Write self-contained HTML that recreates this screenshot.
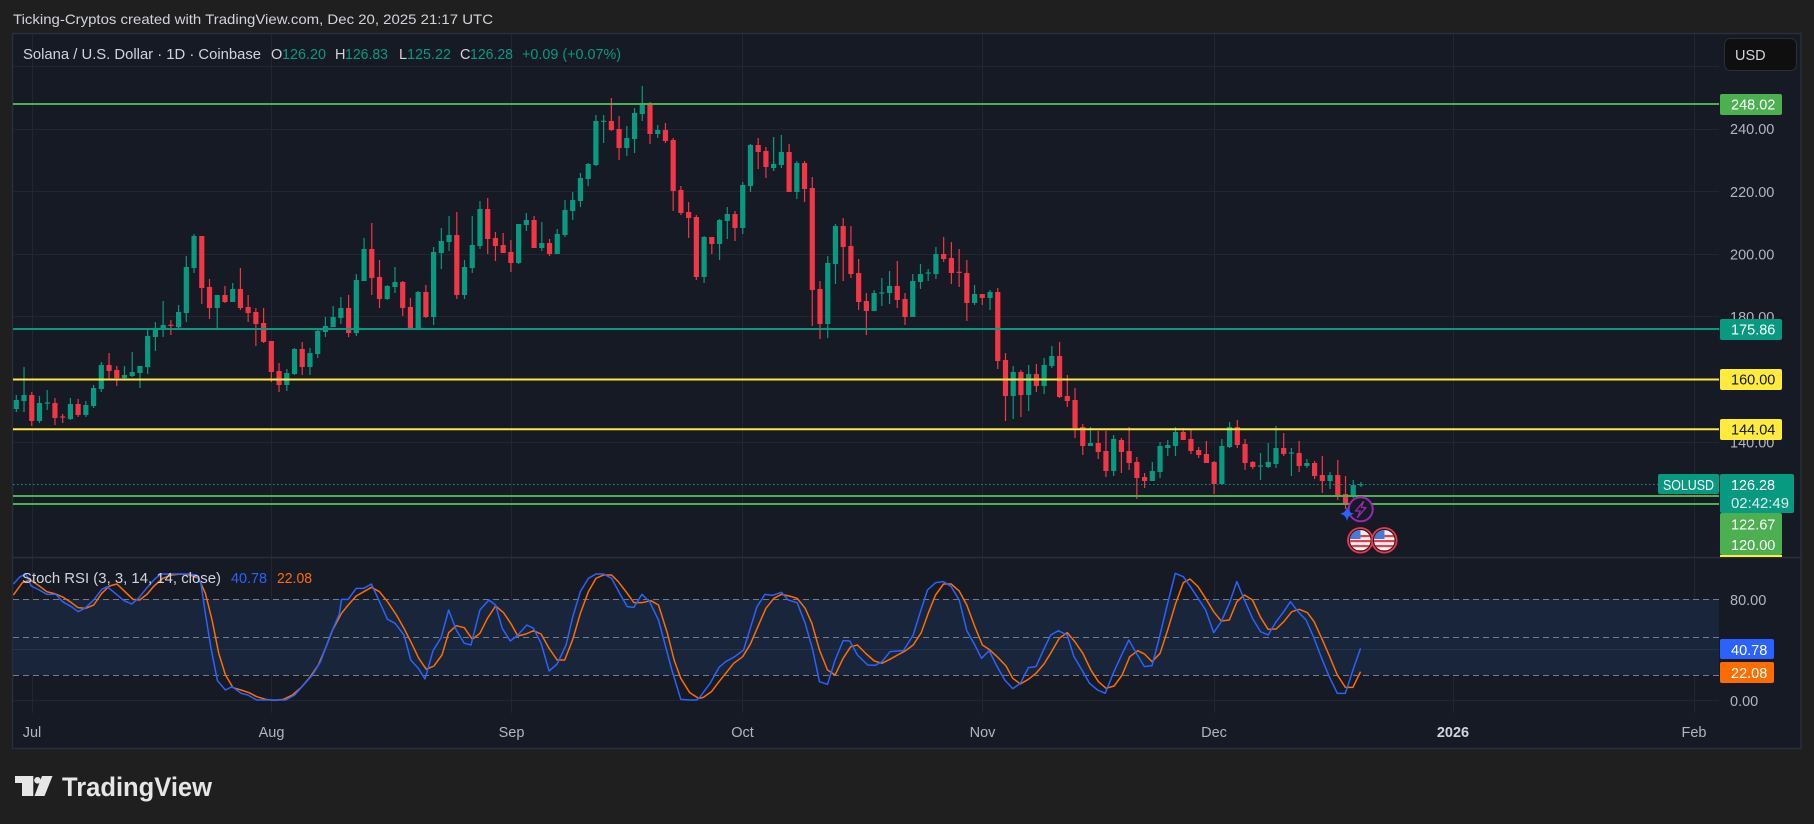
<!DOCTYPE html>
<html><head><meta charset="utf-8">
<style>
html,body{margin:0;padding:0;background:#1f1f1f;width:1814px;height:824px;overflow:hidden}
svg{display:block}
text{font-family:"Liberation Sans",sans-serif}
</style></head><body>
<svg id="s" width="1814" height="824" viewBox="0 0 1814 824" xmlns="http://www.w3.org/2000/svg">
<defs>
<clipPath id="plot"><rect x="13" y="34" width="1706" height="523"/></clipPath>
<clipPath id="spane"><rect x="13" y="558" width="1706" height="155"/></clipPath>
<clipPath id="f1"><circle cx="1360.3" cy="540.3" r="10.3"/></clipPath>
<clipPath id="f2"><circle cx="1384.3" cy="540.3" r="10.3"/></clipPath>
</defs>
<rect width="1814" height="824" fill="#1f1f1f"/>
<text x="13" y="24" font-size="14" fill="#d1d4dc" textLength="480" lengthAdjust="spacingAndGlyphs">Ticking-Cryptos created with TradingView.com, Dec 20, 2025 21:17 UTC</text>
<rect x="12.5" y="33.5" width="1788.5" height="715" fill="#161a25" stroke="#2a2e39" stroke-width="1.5"/>

<!-- grid main pane -->
<g stroke="#232632" stroke-width="1">
<line x1="13" x2="1719" y1="66.5" y2="66.5"/>
<line x1="13" x2="1719" y1="129.5" y2="129.5"/>
<line x1="13" x2="1719" y1="191.5" y2="191.5"/>
<line x1="13" x2="1719" y1="254.5" y2="254.5"/>
<line x1="13" x2="1719" y1="316.5" y2="316.5"/>
<line x1="13" x2="1719" y1="379.5" y2="379.5"/>
<line x1="13" x2="1719" y1="442.5" y2="442.5"/>
<line x1="13" x2="1719" y1="504.5" y2="504.5"/>
<line x1="32.5" x2="32.5" y1="34" y2="713"/>
<line x1="271.5" x2="271.5" y1="34" y2="713"/>
<line x1="511.5" x2="511.5" y1="34" y2="713"/>
<line x1="742.5" x2="742.5" y1="34" y2="713"/>
<line x1="982.5" x2="982.5" y1="34" y2="713"/>
<line x1="1214.5" x2="1214.5" y1="34" y2="713"/>
<line x1="1453.5" x2="1453.5" y1="34" y2="713"/>
<line x1="1694.5" x2="1694.5" y1="34" y2="713"/>
</g>

<!-- legend -->
<g font-size="14.5">
<text x="23" y="59" fill="#d1d4dc" textLength="238" lengthAdjust="spacingAndGlyphs">Solana / U.S. Dollar · 1D · Coinbase</text>
<text x="271" y="59" fill="#d1d4dc">O</text>
<text x="282" y="59" fill="#089981" textLength="44" lengthAdjust="spacingAndGlyphs">126.20</text>
<text x="335" y="59" fill="#d1d4dc">H</text>
<text x="345" y="59" fill="#089981" textLength="43" lengthAdjust="spacingAndGlyphs">126.83</text>
<text x="399" y="59" fill="#d1d4dc">L</text>
<text x="407" y="59" fill="#089981" textLength="44" lengthAdjust="spacingAndGlyphs">125.22</text>
<text x="460" y="59" fill="#d1d4dc">C</text>
<text x="470" y="59" fill="#089981" textLength="43" lengthAdjust="spacingAndGlyphs">126.28</text>
<text x="522" y="59" fill="#089981" textLength="99" lengthAdjust="spacingAndGlyphs">+0.09 (+0.07%)</text>
</g>

<!-- candles -->
<g id="candles" clip-path="url(#plot)"></g>

<!-- dotted last price -->
<line x1="13" x2="1658" y1="484.5" y2="484.5" stroke="#089981" stroke-width="1" stroke-dasharray="1.5 2.5"/>

<!-- horizontal levels -->
<g stroke-width="2">
<line x1="13" x2="1719" y1="104" y2="104" stroke="#4caf50"/>
<line x1="13" x2="1719" y1="329" y2="329" stroke="#089981"/>
<line x1="13" x2="1719" y1="379.5" y2="379.5" stroke="#ffeb3b"/>
<line x1="13" x2="1719" y1="429.3" y2="429.3" stroke="#ffeb3b"/>
<line x1="13" x2="1719" y1="496" y2="496" stroke="#4caf50"/>
<line x1="13" x2="1719" y1="504" y2="504" stroke="#4caf50"/>
</g>

<!-- icons near last candle -->
<circle cx="1360.7" cy="509.3" r="12" fill="#161a25" stroke="#9c27b0" stroke-width="2"/>
<path d="M1363.5,501.5 L1355.5,511 H1360.3 L1357.5,517.5 L1366,507.5 H1361.3 Z" fill="none" stroke="#9c27b0" stroke-width="1.3" stroke-linejoin="round"/>
<path d="M1347,506.5 Q1348,512.7 1354,513.7 Q1348,514.7 1347,521 Q1346,514.7 1340,513.7 Q1346,512.7 1347,506.5 Z" fill="#2962ff"/>
<g>
<circle cx="1360.3" cy="540.3" r="12.3" fill="#161a25" stroke="#f23645" stroke-width="1.8"/>
<g clip-path="url(#f1)">
<rect x="1349" y="529" width="23" height="23" fill="#f2f2f2"/>
<rect x="1349" y="535" width="23" height="2.2" fill="#e0424e"/>
<rect x="1349" y="540" width="23" height="2.2" fill="#e0424e"/>
<rect x="1349" y="545" width="23" height="2.2" fill="#e0424e"/>
<rect x="1349" y="550" width="23" height="2.2" fill="#e0424e"/>
<rect x="1349" y="529" width="11.5" height="10" fill="#4a78d8"/>
</g>
<circle cx="1384.3" cy="540.3" r="12.3" fill="#161a25" stroke="#f23645" stroke-width="1.8"/>
<g clip-path="url(#f2)">
<rect x="1373" y="529" width="23" height="23" fill="#f2f2f2"/>
<rect x="1373" y="535" width="23" height="2.2" fill="#e0424e"/>
<rect x="1373" y="540" width="23" height="2.2" fill="#e0424e"/>
<rect x="1373" y="545" width="23" height="2.2" fill="#e0424e"/>
<rect x="1373" y="550" width="23" height="2.2" fill="#e0424e"/>
<rect x="1373" y="529" width="11.5" height="10" fill="#4a78d8"/>
</g>
</g>

<!-- pane separator -->
<line x1="12" x2="1801" y1="557.5" y2="557.5" stroke="#2a2e39" stroke-width="1.5"/>

<!-- stoch pane -->
<rect x="13" y="599" width="1706" height="76" fill="#18253a"/>
<g stroke="#232632" stroke-width="1">
<line x1="13" x2="1719" y1="649.5" y2="649.5" stroke="#24324a"/>
<line x1="13" x2="1719" y1="700.5" y2="700.5"/>
</g>
<g stroke="#787b86" stroke-width="1" stroke-dasharray="6 4">
<line x1="13" x2="1719" y1="599.5" y2="599.5"/>
<line x1="13" x2="1719" y1="637.5" y2="637.5"/>
<line x1="13" x2="1719" y1="675.5" y2="675.5"/>
</g>
<g id="stoch" clip-path="url(#spane)"></g>
<text x="22" y="583" font-size="15" fill="#d1d4dc" textLength="199" lengthAdjust="spacingAndGlyphs">Stoch RSI (3, 3, 14, 14, close)</text>
<text x="231" y="583" font-size="15" fill="#2962ff" textLength="36" lengthAdjust="spacingAndGlyphs">40.78</text>
<text x="277" y="583" font-size="15" fill="#ff6d00" textLength="35" lengthAdjust="spacingAndGlyphs">22.08</text>

<!-- price axis -->
<g font-size="14.5" fill="#b2b5be">
<text x="1730" y="134">240.00</text>
<text x="1730" y="197">220.00</text>
<text x="1730" y="259.5">200.00</text>
<text x="1730" y="322">180.00</text>
<text x="1730" y="447.5">140.00</text>
<text x="1730" y="605">80.00</text>
<text x="1730" y="706">0.00</text>
</g>
<g font-size="14.5">
<rect x="1720" y="94" width="62" height="21" rx="2" fill="#4caf50"/>
<text x="1731" y="109.5" fill="#ffffff">248.02</text>
<rect x="1720" y="319" width="62" height="21" rx="2" fill="#089981"/>
<text x="1731" y="334.5" fill="#ffffff">175.86</text>
<rect x="1720" y="369" width="62" height="21" rx="2" fill="#ffeb3b"/>
<text x="1731" y="384.5" fill="#131722">160.00</text>
<rect x="1720" y="419" width="62" height="21" rx="2" fill="#ffeb3b"/>
<text x="1731" y="434.5" fill="#131722">144.04</text>
<rect x="1658" y="474" width="61" height="20" rx="2" fill="#089981"/>
<text x="1663" y="490" fill="#ffffff" textLength="51" lengthAdjust="spacingAndGlyphs">SOLUSD</text>
<rect x="1720" y="474" width="74" height="39" rx="2" fill="#089981"/>
<text x="1731" y="490" fill="#ffffff" textLength="44" lengthAdjust="spacingAndGlyphs">126.28</text>
<text x="1731" y="508" fill="#e0f2ee" textLength="58" lengthAdjust="spacingAndGlyphs">02:42:49</text>
<rect x="1720" y="513" width="62" height="42" rx="2" fill="#4caf50"/>
<text x="1731" y="529.5" fill="#ffffff">122.67</text>
<text x="1731" y="550" fill="#ffffff">120.00</text>
<rect x="1720" y="555" width="62" height="2" fill="#ffeb3b"/>
<rect x="1720" y="639" width="54" height="20" rx="2" fill="#2962ff"/>
<text x="1731" y="655" fill="#ffffff">40.78</text>
<rect x="1720" y="662" width="54" height="21" rx="2" fill="#ff6d00"/>
<text x="1731" y="678" fill="#ffffff">22.08</text>
</g>

<!-- USD button -->
<rect x="1724.5" y="38.5" width="72" height="32" rx="6" fill="#0f0f0f" stroke="#2a2e39"/>
<text x="1735" y="60" font-size="14.5" fill="#d1d4dc">USD</text>

<!-- time axis -->
<g font-size="14.5" fill="#b2b5be" text-anchor="middle">
<text x="32" y="737">Jul</text>
<text x="271.5" y="737">Aug</text>
<text x="511.5" y="737">Sep</text>
<text x="742.5" y="737">Oct</text>
<text x="982.5" y="737">Nov</text>
<text x="1214" y="737">Dec</text>
<text x="1453" y="737" font-weight="bold" fill="#d1d4dc">2026</text>
<text x="1694" y="737">Feb</text>
</g>

<!-- logo -->
<g fill="#e6e6e6">
<path d="M15,776 H33.3 V796 H22 V783 H15 Z"/>
<circle cx="37.5" cy="780.3" r="3.3"/>
<path d="M42,776 H52.5 L44.5,796 H34.5 Z"/>
<text x="62" y="796" font-size="27" font-weight="bold" textLength="150" lengthAdjust="spacingAndGlyphs">TradingView</text>
</g>
</svg>
<script>
(function(){
var C4=[
['g',600,627,585,636],['g',585,603,501,636],['r',585,663,576,678],['g',609,663,588,669],['g',609,609,570,630],
['r',609,654,594,675],['r',651,651,642,669],['g',612,657,594,660],['r',612,645,597,651],['g',615,645,603,651],
['g',564,618,555,624],['g',495,567,486,576],['r',495,513,459,540],['r',510,534,498,558],['g',525,534,498,540],
['g',516,528,456,531],['g',498,519,498,564],['g',408,501,387,522],['g',387,411,366,453],['g',375,387,303,411],
['r',376,376,360,405],['g',336,381,315,384],['g',201,339,168,366],['g',108,204,102,219],['r',108,264,108,312],
['r',261,324,237,357],['g',285,324,285,384],['r',285,306,258,309],['g',267,306,249,306],['r',267,324,204,330],
['r',321,339,285,366],['r',336,372,324,438],['r',369,426,324,429],['r',423,516,423,546],['r',513,555,489,576],
['g',519,555,507,573],['g',447,522,444,525],['r',447,501,426,525],['g',459,501,444,525],['g',393,462,387,474],
['g',378,396,351,411],['g',351,381,318,381],['g',324,354,291,372],['r',324,399,285,411],['g',240,399,222,408],
['g',147,243,114,243],['r',147,234,69,285],['r',231,297,180,324],['g',258,297,255,300],['g',246,261,201,279],
['r',246,324,243,348],['r',321,387,294,390],['g',276,387,273,387],['r',276,351,255,354],['g',156,351,141,375]];
var C5=[
['g',483,519,444,567],['g',465,486,408,513],['r',465,645,396,657],['g',561,645,540,657],['g',495,564,408,579],
['g',387,498,363,507],['r',387,477,354,522],['r',474,498,456,543],['r',495,519,459,519],['r',516,549,480,576],
['g',432,549,432,552],['g',420,435,399,453],['r',420,504,408,504],['g',489,504,426,513],['r',489,522,477,528],
['g',462,522,447,522],['g',390,465,360,471],['g',360,393,336,420],['g',294,363,279,381],['g',252,297,249,318],
['g',123,255,105,258],['g',124,124,105,189],['r',123,150,54,153],['r',147,204,108,240],['g',174,204,138,228],
['g',99,177,84,219],['g',72,102,18,123],['r',75,162,66,192],['g',150,162,135,174],['r',150,183,129,189],
['r',180,333,174,393],['r',330,399,318,405],['r',396,414,366,474],['r',411,591,405,600],['g',471,591,468,609],
['r',471,492,471,522],['g',420,492,417,540],['g',402,423,381,477],['r',402,444,393,483],['g',315,444,306,462],
['g',195,318,192,336],['r',195,216,174,267],['r',213,261,201,294],['g',252,264,171,273],['g',216,255,165,264],
['r',216,336,192,336],['g',249,336,243,357],['r',249,327,243,366],['r',324,630,291,738],['r',627,732,603,777],
['g',549,732,528,774],['g',438,552,432,612],['r',438,501,414,603],['r',498,582,438,594],['r',579,666,537,690],
['r',663,693,639,765],['g',639,693,630,693],['g',639,639,594,678],['g',618,639,573,672]];
var C6=[
['r',198,240,123,264],['r',237,291,219,315],['g',183,291,162,291],['g',162,186,132,207],['g',159,159,147,183],
['g',102,162,81,177],['r',102,117,51,126],['r',114,159,66,192],['r',157,157,87,201],['r',159,249,120,303],
['g',222,249,195,255],['r',222,234,222,255],['g',216,234,210,270],['r',216,423,204,447],['r',420,528,399,603],
['g',456,528,438,597],['r',456,525,450,591],['g',462,525,435,573],['r',462,498,432,516],['g',435,498,414,522],
['g',408,438,378,444],['r',408,531,366,534],['r',528,543,465,561],['r',540,624,504,654],['r',621,678,612,705],
['g',669,678,621,678],['r',669,696,633,717],['r',693,753,633,771],['g',657,753,645,768],['r',660,696,654,759],
['r',693,729,621,750],['r',726,774,711,837],['r',771,783,759,804],['g',753,783,726,783],['g',678,756,666,774],
['g',675,684,660,708],['g',636,678,621,708],['r',636,660,624,660],['r',657,693,627,702],['r',690,705,681,714],
['r',702,729,663,729],['r',726,792,723,822],['g',678,792,657,795],['g',621,681,606,684],['r',621,675,600,684],
['r',672,729,657,750],['r',726,741,723,747],['g',738,738,699,780],['g',726,741,669,744],['g',684,732,618,744],
['r',684,702,639,708],['g',699,699,684,768],['r',699,738,663,756],['g',729,738,717,744],['r',729,768,723,777],
['r',765,783,708,819],['g',765,783,756,807],['r',765,828,720,840],['r',822,855,768,867],['g',795,831,780,834],
['g',794,794,786,801]];
var out='';var idx=1;
function run(arr,off){
 for(var k=0;k<arr.length;k++){
  var d=arr[k];var x=16.3+(idx-1)*7.728;idx++;
  var col=d[0]=='g'?'#089981':'#f23645';
  var bt=off+d[1]/3,bb=off+d[2]/3,wt=off+d[3]/3,wb=off+d[4]/3;
  out+='<line x1="'+x.toFixed(2)+'" x2="'+x.toFixed(2)+'" y1="'+wt.toFixed(2)+'" y2="'+wb.toFixed(2)+'" stroke="'+col+'" stroke-width="1.2"/>';
  var h=bb-bt;var top=bt;if(h<1.2){top=bt-0.6;h=1.2;}
  out+='<rect x="'+(x-2.6).toFixed(2)+'" y="'+top.toFixed(2)+'" width="5.2" height="'+h.toFixed(2)+'" fill="'+col+'"/>';
 }
}
run(C4,200);run(C5,80);run(C6,220);
document.getElementById('candles').innerHTML=out;

var b7=[30,72,45,50,58,42,70,78,88,90,105,103,125,103,140,125,160,140,175,155,190,145,210,120,228,88,240,80,258,100,278,122,295,132,310,115,330,82,348,55,362,42,378,42,395,42,420,42,440,45,450,70,460,160,472,260,487,362,505,390,520,380,540,400,555,405,575,420,600,420,625,420,640,420,660,405,680,375,700,345,718,305,740,225,760,162,765,118,780,118,798,85,815,85,832,72,850,125,868,178,885,190,905,225,920,300,937,325,952,357,970,272,988,233,1005,150,1022,210,1040,250,1055,255,1075,150,1095,120,1110,135,1125,205,1143,243,1160,225,1180,195,1195,205,1212,250,1230,333,1248,312,1268,255,1283,170,1300,95,1318,55,1335,42,1352,42,1370,55,1390,105,1405,140,1420,142,1438,103,1455,125,1475,180,1490,255,1505,330,1525,418,1545,420,1560,420];
var b8=[20,415,45,370,65,322,80,305,100,290,120,270,135,205,150,140,168,103,185,106,205,97,220,120,240,128,258,190,275,270,290,365,308,373,325,300,343,242,358,243,375,285,398,315,415,316,430,305,448,275,478,272,500,225,515,160,532,90,550,68,568,65,585,80,603,120,620,212,638,255,653,295,670,272,688,320,705,360,723,386,740,370,758,323,775,320,790,275,808,225,825,212,845,225,860,290,878,330,895,370,913,390,930,400,948,340,965,290,983,240,1000,280,1018,320,1035,317,1050,240,1068,140,1087,40,1105,50,1122,82,1138,115,1155,150,1173,218,1190,185,1208,130,1225,65,1242,120,1260,175,1278,215,1295,225,1313,185,1330,155,1345,125,1362,155,1380,180,1398,235,1415,295,1432,350,1450,400,1468,400,1485,330,1502,265];
var o7=[30,105,50,68,68,60,88,78,105,95,125,102,142,112,160,128,175,143,192,145,210,135,228,100,245,78,262,72,280,95,298,118,313,120,330,102,345,78,365,55,385,45,405,42,425,45,445,55,460,100,475,180,490,280,505,345,522,383,540,390,558,398,575,410,595,418,615,421,635,418,655,405,675,382,695,350,713,315,730,262,745,210,765,160,780,135,798,108,815,95,832,82,850,95,868,125,888,165,905,205,922,250,938,295,955,328,972,318,990,285,1005,218,1022,197,1040,203,1058,238,1075,220,1092,175,1110,138,1128,158,1145,192,1160,228,1178,222,1195,212,1212,222,1230,265,1248,300,1265,300,1283,238,1300,160,1318,95,1335,55,1352,45,1370,45,1385,65,1405,100,1420,128,1438,128,1458,122,1475,135,1495,220,1510,300,1525,355,1545,398,1565,415];
var o8=[30,412,48,395,65,365,80,340,98,310,118,290,135,253,152,200,170,145,188,115,205,103,222,108,240,115,258,145,273,190,290,270,308,330,325,345,343,295,360,260,375,255,395,282,413,303,430,310,448,298,465,285,483,272,500,255,518,218,535,155,550,105,568,72,585,72,603,93,620,135,638,200,655,255,670,268,688,290,708,318,723,355,740,372,758,358,775,340,793,312,810,275,827,235,845,218,862,245,880,280,898,330,915,365,932,385,950,378,968,345,985,290,1003,272,1018,282,1035,305,1053,280,1070,210,1088,130,1105,68,1120,57,1138,80,1155,115,1173,155,1190,183,1208,180,1225,125,1242,105,1260,120,1278,172,1295,208,1313,207,1330,185,1348,155,1365,148,1383,158,1398,185,1415,235,1433,290,1450,345,1468,382,1485,382,1502,335];
function pts(a,ox){var s='';for(var i=0;i<a.length;i+=2){s+=(ox+a[i]/2.24).toFixed(2)+','+(560+a[i+1]/3).toFixed(2)+' ';}return s;}
var st='';
st+='<polyline fill="none" stroke="#ff6d00" stroke-width="1.5" stroke-linejoin="round" points="'+pts(o7,0)+pts(o8,690)+'"/>';
st+='<polyline fill="none" stroke="#2962ff" stroke-width="1.5" stroke-linejoin="round" points="'+pts(b7,0)+pts(b8,690)+'"/>';
document.getElementById('stoch').innerHTML=st;
})();
</script>
</body></html>
